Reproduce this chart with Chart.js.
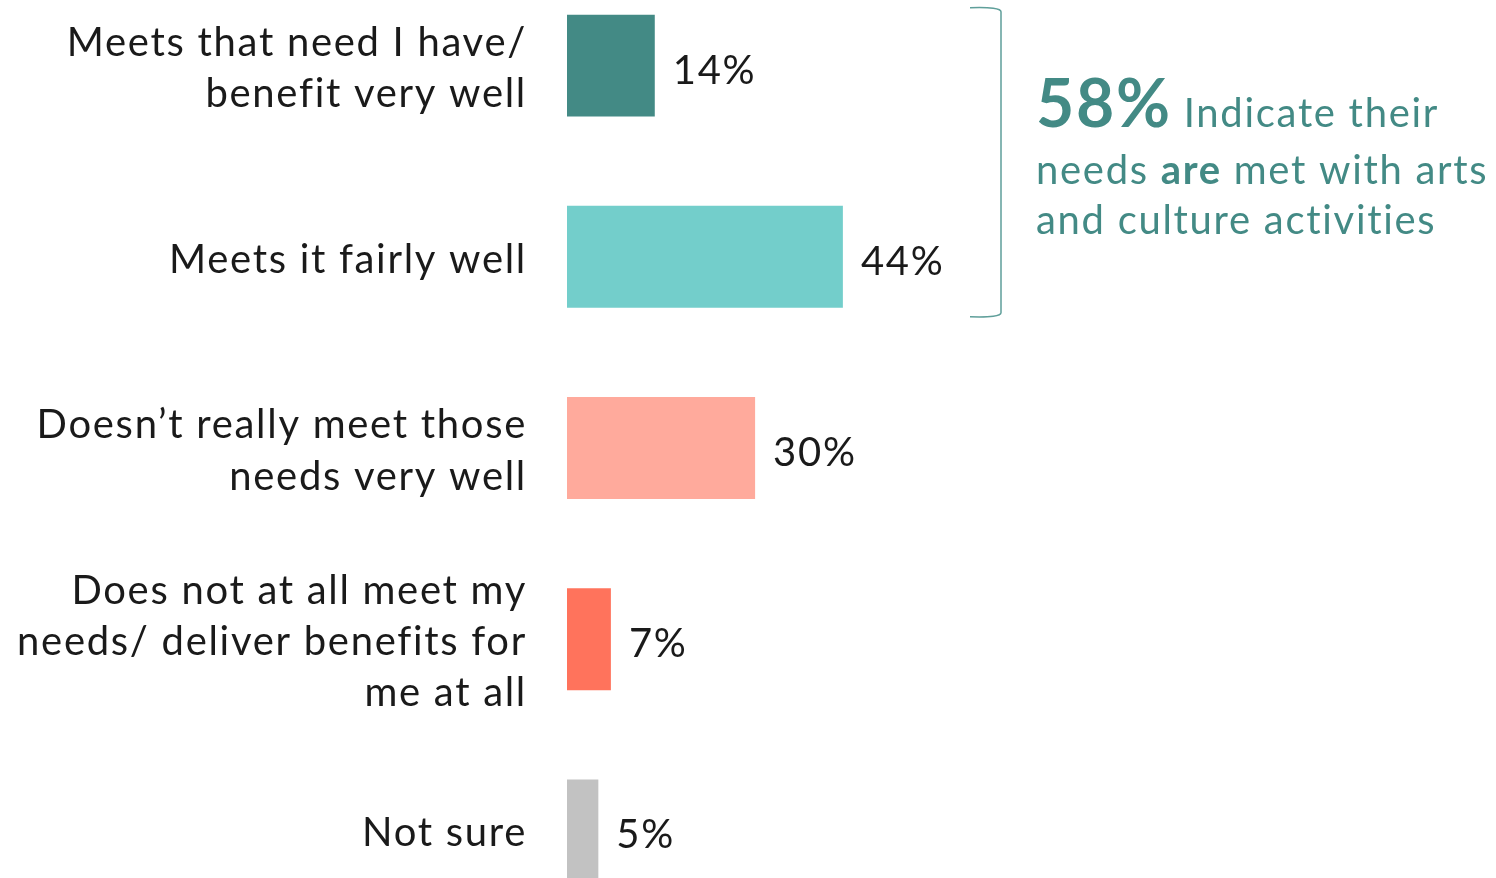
<!DOCTYPE html>
<html>
<head>
<meta charset="utf-8">
<script src="https://cdn.jsdelivr.net/npm/chart.js@4"></script>
<style>
    html, body { margin: 0; padding: 0; background: #fff; overflow: hidden; }
    body { width: 1496px; height: 878px; position: relative; }
    #wrap { position: absolute; left: 0; top: -30px; width: 1496px; height: 956px; }
</style>
</head>
<body>
<div id="wrap"><canvas id="chart"></canvas></div>
<script>
// Chart data
const categories = [
    ['Meets that need I have/', 'benefit very well'],
    'Meets it fairly well',
    ['Doesn\u2019t really meet those', 'needs very well'],
    ['Does not at all meet my', 'needs/ deliver benefits for', 'me at all'],
    'Not sure'
];
const shares = [14, 44, 30, 7, 5];
const barColors = ['#438a85', '#73cecb', '#ffaa9c', '#ff735c', '#c2c2c2'];

const FONT = 'Lato, "Open Sans", sans-serif';
const TEXT_COLOR = '#1a1a1a';
const TEAL = '#438a85';
const SPACING = '1.7px';
const OFFSET = 30; // canvas is shifted up by this much

// Wider tracking to get closer to the original typeface
const tracking = {
    id: 'tracking',
    beforeDraw(chart) {
        chart.ctx.letterSpacing = SPACING;
    }
};

// Value labels at the end of each bar
const valueLabels = {
    id: 'valueLabels',
    afterDatasetsDraw(chart) {
        const ctx = chart.ctx;
        const meta = chart.getDatasetMeta(0);
        ctx.save();
        ctx.letterSpacing = SPACING;
        ctx.font = '40px ' + FONT;
        ctx.fillStyle = TEXT_COLOR;
        ctx.textAlign = 'left';
        ctx.textBaseline = 'middle';
        meta.data.forEach((bar, i) => {
            ctx.fillText(shares[i] + '%', bar.x + 18, bar.y + 5);
        });
        ctx.restore();
    }
};

// Bracket + callout for the top two answers
const callout = {
    id: 'callout',
    afterDraw(chart) {
        const ctx = chart.ctx;
        const meta = chart.getDatasetMeta(0);
        const b1 = meta.data[0], b2 = meta.data[1];
        const top = b1.y - b1.height / 2 - 7;
        const bottom = b2.y + b2.height / 2 + 9;
        const x = 1001;

        ctx.save();
        ctx.strokeStyle = '#5f9f9a';
        ctx.lineWidth = 1.5;
        ctx.beginPath();
        ctx.moveTo(970, top);
        ctx.quadraticCurveTo(1001, top - 1, x, top + 4);
        ctx.lineTo(x, bottom - 4);
        ctx.quadraticCurveTo(1001, bottom + 1, 970, bottom);
        ctx.stroke();

        const total = shares[0] + shares[1];
        const left = 1036;
        ctx.letterSpacing = SPACING;
        ctx.fillStyle = TEAL;
        ctx.textAlign = 'left';
        ctx.textBaseline = 'alphabetic';

        // line 1
        let y = 127 + OFFSET;
        ctx.font = 'bold 66px ' + FONT;
        ctx.fillText(total + '%', left, y);
        let w = ctx.measureText(total + '%').width;
        ctx.font = '40px ' + FONT;
        ctx.fillText('Indicate their', left + w + 12, y);

        // line 2
        y = 184 + OFFSET;
        let cx = left;
        ctx.font = '40px ' + FONT;
        ctx.fillText('needs ', cx, y);
        cx += ctx.measureText('needs ').width;
        ctx.font = 'bold 40px ' + FONT;
        ctx.fillText('are', cx, y);
        cx += ctx.measureText('are').width;
        ctx.font = '40px ' + FONT;
        ctx.fillText(' met with arts', cx, y);

        // line 3
        y = 234 + OFFSET;
        ctx.fillText('and culture activities', left, y);
        ctx.restore();
    }
};

const ctx = document.getElementById('chart').getContext('2d');
const chart = new Chart(ctx, {
    type: 'bar',
    data: {
        labels: categories,
        datasets: [{
            data: shares,
            backgroundColor: barColors,
            borderWidth: 0,
            barPercentage: 0.533,
            categoryPercentage: 1
        }]
    },
    options: {
        indexAxis: 'y',
        responsive: true,
        maintainAspectRatio: false,
        animation: false,
        events: [],
        layout: { padding: { left: 0, right: 302, top: 0, bottom: 0 } },
        plugins: {
            legend: { display: false },
            tooltip: { enabled: false }
        },
        scales: {
            x: {
                display: false,
                min: 0,
                max: 100
            },
            y: {
                grid: { display: false, drawTicks: false },
                border: { display: false },
                ticks: {
                    color: TEXT_COLOR,
                    padding: 40,
                    labelOffset: 3,
                    font: { family: FONT, size: 40, lineHeight: 1.28 }
                },
                afterFit(scale) {
                    scale.width = 567;
                    // labels must not push the plot area in
                    scale.paddingTop = 0;
                    scale.paddingBottom = 0;
                }
            }
        }
    },
    plugins: [tracking, valueLabels, callout]
});
</script>
</body>
</html>
